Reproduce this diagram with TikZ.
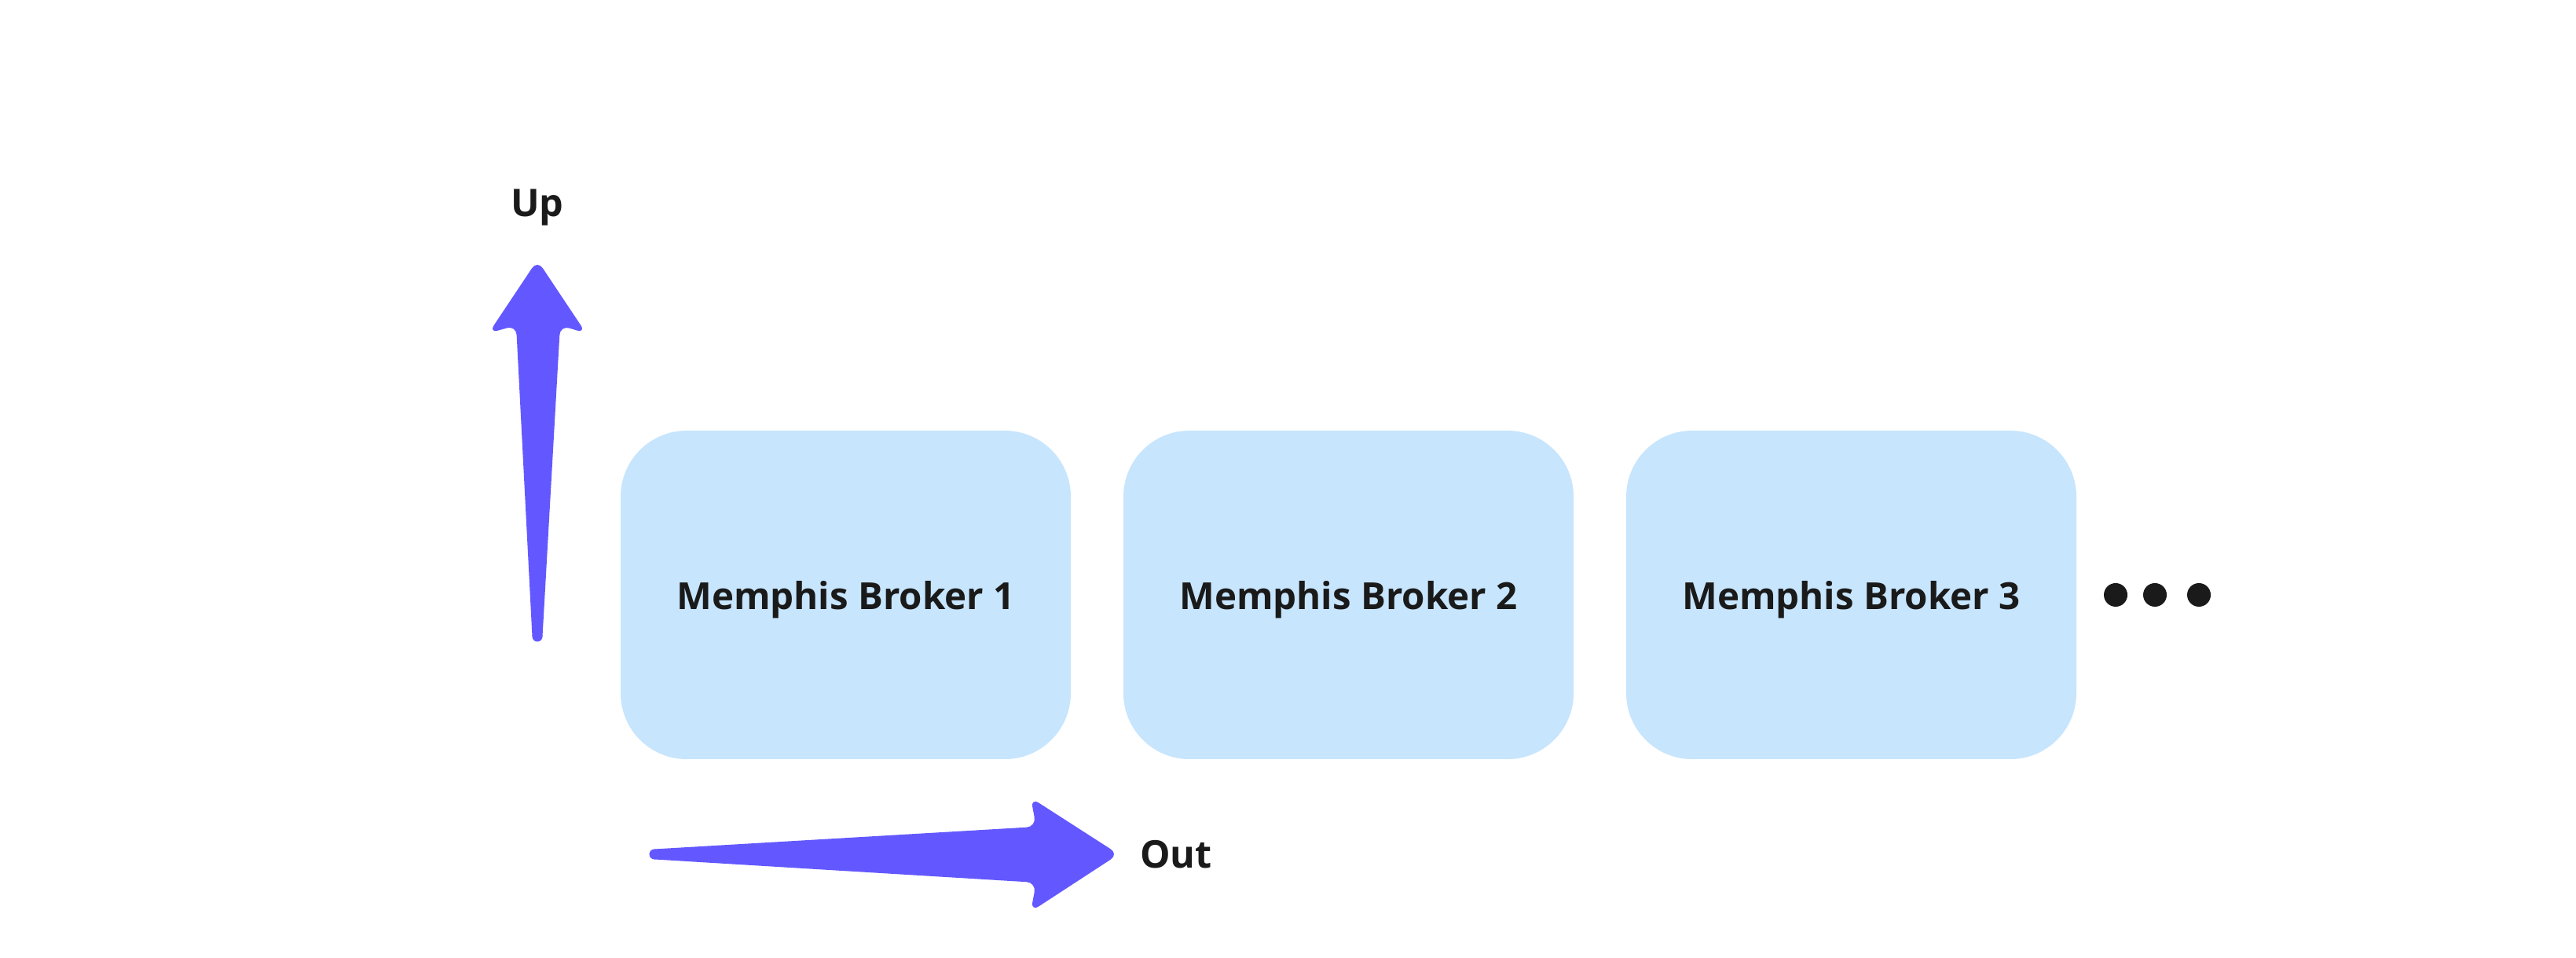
\documentclass[tikz,border=0pt]{standalone}
\usepackage{fontspec}
\setmainfont{Open Sans}
\usetikzlibrary{positioning,calc}
\definecolor{brokerblue}{RGB}{199,229,253}
\definecolor{axisviolet}{RGB}{99,88,255}
\definecolor{inkblack}{RGB}{26,26,26}
\begin{document}
\begin{tikzpicture}[
  broker/.style={rectangle, rounded corners=0.84cm, fill=brokerblue, draw=none,
    minimum width=5.73cm, minimum height=4.18cm, inner sep=0pt, outer sep=0pt,
    text depth=0pt, font=\fontsize{13.5}{16}\selectfont\bfseries, text=inkblack},
  dot/.style={circle, fill=inkblack, inner sep=0pt, minimum size=0.30cm},
  axislabel/.style={font=\fontsize{13.8}{16}\selectfont\bfseries, text=inkblack, inner sep=0pt},
  axisarrow/.style={fill=axisviolet, draw=none}]
\useasboundingbox (0,0) rectangle (32.79,12.19);

% brokers
\node[broker] (b1) at (10.765,4.62) {Memphis Broker 1};
\node[broker, right=0.67cm of b1] (b2) {Memphis Broker 2};
\node[broker, right=0.67cm of b2] (b3) {Memphis Broker 3};

% more brokers
\node[dot] (d1) at (26.93,4.62) {};
\node[dot] (d2) at (27.43,4.62) {};
\node[dot] (d3) at (27.99,4.62) {};

% up arrow
\coordinate (uptail) at (6.84,4.09);
\coordinate (uptip) at (6.84,8.88);
\fill[axisarrow, rounded corners=3.5pt] ($(uptail)+(0.065,0)$) -- (7.13,8.05) -- (7.46,7.95)
  -- (uptip) -- (6.22,7.95) -- (6.57,8.05) -- ($(uptail)+(-0.065,0)$);
\fill[axisarrow] (uptail) circle (0.065);
\node[axislabel] (up) at (6.84,9.55) {Up};

% out arrow
\coordinate (outtail) at (8.33,1.32);
\coordinate (outtip) at (14.24,1.32);
\fill[axisarrow, rounded corners=3.5pt] ($(outtail)+(0,-0.065)$) -- (13.19,0.96) -- (13.12,0.59)
  -- (outtip) -- (13.12,2.04) -- (13.19,1.67) -- ($(outtail)+(0,0.065)$);
\fill[axisarrow] (outtail) circle (0.065);
\node[axislabel] (out) at (14.97,1.32) {Out};
\end{tikzpicture}
\end{document}
